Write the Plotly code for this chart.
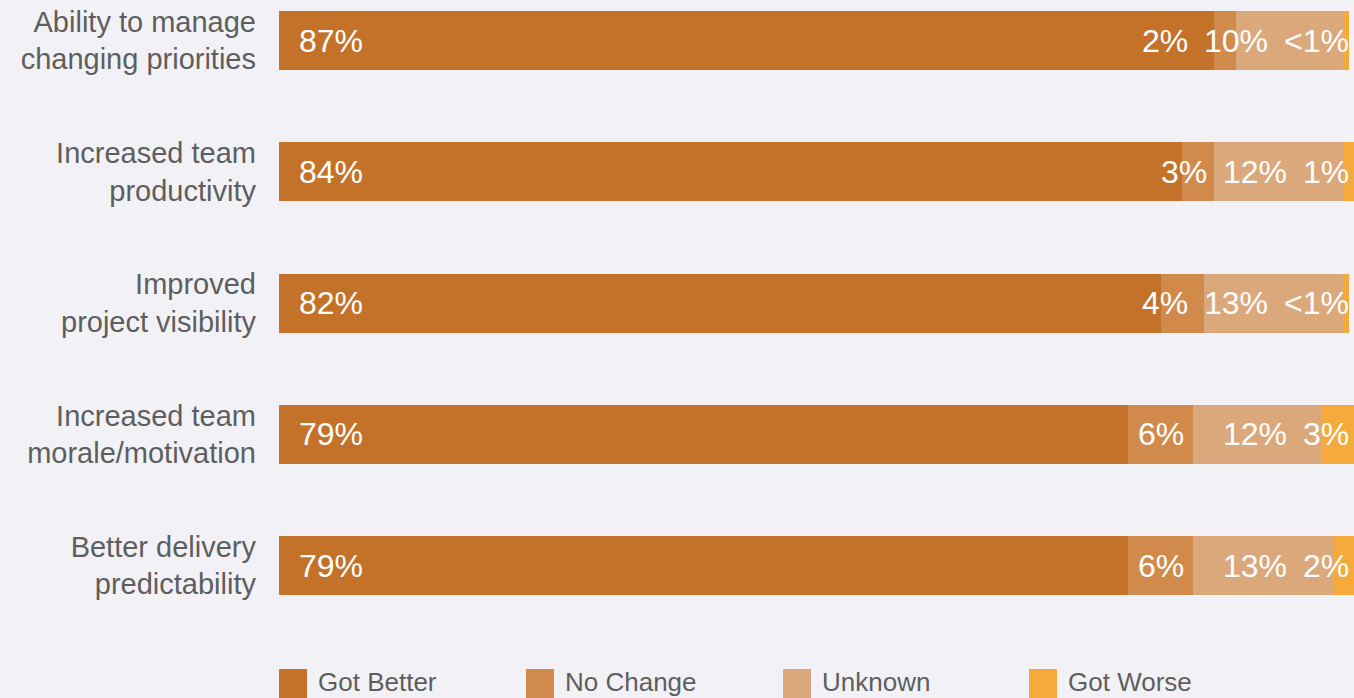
import plotly.graph_objects as go

# Survey results: share of respondents per outcome, by benefit
categories = [
    "Ability to manage<br>changing priorities",
    "Increased team<br>productivity",
    "Improved<br>project visibility",
    "Increased team<br>morale/motivation",
    "Better delivery<br>predictability",
]
got_better = [87, 84, 82, 79, 79]
no_change = [2, 3, 4, 6, 6]
unknown = [10, 12, 13, 12, 13]
got_worse = [0.5, 1, 0.5, 3, 2]          # "<1%" drawn as 0.5
got_worse_labels = ["<1%", "1%", "<1%", "3%", "2%"]

series_names = ["Got Better", "No Change", "Unknown", "Got Worse"]
series_colors = ["#C4722A", "#D08B4C", "#DBA87B", "#F5AA3B"]

# Page geometry
W, H = 1354, 698
M_L, M_R, M_T, M_B = 279, 0, 0, 58
PLOT_W = W - M_L - M_R
PLOT_H = H - M_T - M_B
BG = "#F2F2F6"
FONT = "Liberation Sans, Arial, sans-serif"
LABEL_SIZE = 32

fig = go.Figure()
series = [got_better, no_change, unknown, got_worse]
for name, vals, col in zip(series_names, series, series_colors):
    fig.add_trace(go.Bar(
        y=categories, x=vals, name=name, orientation="h",
        marker=dict(color=col, line=dict(width=0)),
        showlegend=False, hovertemplate="%{y}: %{x}%<extra>" + name + "</extra>",
    ))

# ---- value labels -------------------------------------------------------
px_per_unit = PLOT_W / 100.0
CHAR_W = {"<": 0.584, "%": 0.889}


def text_units(s):
    em = sum(CHAR_W.get(c, 0.556) for c in s)
    return em * LABEL_SIZE / px_per_unit


annotations = []
label_font = dict(family=FONT, size=LABEL_SIZE, color="white")
pad_u = 5 / px_per_unit
gap_u = 16 / px_per_unit
for i, cat in enumerate(categories):
    # leading segment label sits at the start of the bar
    annotations.append(dict(
        x=0, y=cat, xref="x", yref="y", text=f"{got_better[i]}%",
        xanchor="left", yanchor="middle", xshift=18, showarrow=False,
        font=label_font,
    ))
    starts = [got_better[i], got_better[i] + no_change[i],
              got_better[i] + no_change[i] + unknown[i]]
    vals = [no_change[i], unknown[i], got_worse[i]]
    texts = [f"{no_change[i]}%", f"{unknown[i]}%", got_worse_labels[i]]
    # place the narrow segments' labels right to left so they never collide
    limit = 100 - pad_u
    for s, v, t in reversed(list(zip(starts, vals, texts))):
        w = text_units(t)
        cx = min(s + v / 2.0, limit - w / 2.0)
        limit = cx - w / 2.0 - gap_u
        annotations.append(dict(
            x=cx, y=cat, xref="x", yref="y", text=t,
            xanchor="center", yanchor="middle", showarrow=False,
            font=label_font,
        ))

# ---- legend (swatches + names) -----------------------------------------
legend_px = [279, 526, 783, 1029]
shapes = []
for x0, name, col in zip(legend_px, series_names, series_colors):
    shapes.append(dict(
        type="rect", xref="paper", yref="paper",
        x0=(x0 - M_L) / PLOT_W, x1=(x0 + 28 - M_L) / PLOT_W,
        y0=(PLOT_H - 669) / PLOT_H, y1=(PLOT_H - 700) / PLOT_H,
        fillcolor=col, line=dict(width=0), layer="above",
    ))
    annotations.append(dict(
        x=(x0 + 37 - M_L) / PLOT_W, y=(PLOT_H - 682) / PLOT_H,
        xref="paper", yref="paper", text=name, showarrow=False,
        xanchor="left", yanchor="middle",
        font=dict(family=FONT, size=26, color="#5E5E5E"),
    ))

row_px = 131.25
first_row_px = 40.5
y_top = -first_row_px / row_px
y_bot = (len(categories) - 1) + (PLOT_H - (first_row_px + row_px * (len(categories) - 1))) / row_px

fig.update_layout(
    width=W, height=H,
    margin=dict(l=M_L, r=M_R, t=M_T, b=M_B, pad=0),
    barmode="stack", bargap=1 - 59 / row_px,
    paper_bgcolor=BG, plot_bgcolor=BG,
    font=dict(family=FONT, color="#5E5E5E"),
    xaxis=dict(range=[0, 100], visible=False, fixedrange=True),
    yaxis=dict(
        type="category", categoryorder="array", categoryarray=categories,
        range=[y_bot, y_top], showgrid=False, zeroline=False, showline=False,
        ticks="", ticklabelstandoff=22,
        tickfont=dict(family=FONT, size=29, color="#5E5E5E"),
        fixedrange=True,
    ),
    annotations=annotations, shapes=shapes,
)

fig.write_html("out.html")
